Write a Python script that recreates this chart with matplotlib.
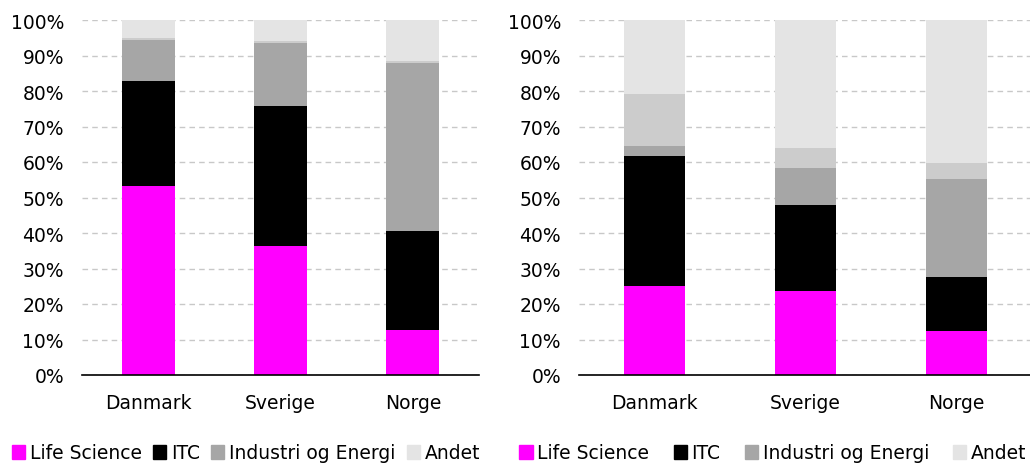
import numpy as np
import matplotlib.pyplot as plt
from matplotlib.patches import Patch

# Data (andel i %)
lande = ['Danmark', 'Sverige', 'Norge']
serier = ['Life Science', 'ITC', 'Industri og Energi', 'Andet']

# venstre figur
v_life = [53.2, 36.3, 12.7]
v_itc = [29.5, 39.6, 27.9]
v_ind = [11.8, 17.7, 47.4]
v_ovr = [0.3, 0.4, 0.5]
v_andet = [5.2, 6.0, 11.5]

# højre figur
h_life = [25.0, 23.7, 12.4]
h_itc = [36.8, 24.3, 15.1]
h_ind = [2.8, 10.2, 27.8]
h_ovr = [14.6, 5.8, 4.5]
h_andet = [20.8, 36.0, 40.2]

farver = ['#ff00ff', '#000000', '#a6a6a6', '#cccccc', '#e4e4e4']

plt.rcParams['font.family'] = 'DejaVu Sans'
plt.rcParams['font.size'] = 13.5

fig = plt.figure(figsize=(10.3, 4.64), dpi=100)
ax1 = fig.add_axes([82/1030, 88/464, 397/1030, 355/464])
ax2 = fig.add_axes([579/1030, 88/464, 453/1030, 355/464])


def tegn(ax, data):
    x = np.arange(len(lande))
    bund = np.zeros(len(lande))
    for vals, c in zip(data, farver):
        ax.bar(x, vals, 0.4, bottom=bund, color=c, zorder=3)
        bund += np.array(vals)
    ax.set_xlim(-0.5, len(lande) - 0.5)
    ax.set_ylim(0, 100)
    ax.set_yticks(np.arange(0, 101, 10))
    ax.set_yticklabels(['{:d}%'.format(v) for v in range(0, 101, 10)])
    ax.set_xticks(x)
    ax.set_xticklabels(lande)
    ax.tick_params(length=0)
    ax.tick_params(axis='y', pad=13)
    ax.tick_params(axis='x', pad=13)
    ax.yaxis.grid(True, color='#c8c8c8', linestyle=(0, (4, 3)), linewidth=1, zorder=0)
    for s in ['left', 'right', 'top']:
        ax.spines[s].set_visible(False)
    ax.spines['bottom'].set_color('black')
    ax.spines['bottom'].set_linewidth(1.2)
    ax.spines['bottom'].set_zorder(4)


tegn(ax1, [v_life, v_itc, v_ind, v_ovr, v_andet])
tegn(ax2, [h_life, h_itc, h_ind, h_ovr, h_andet])

handles = [Patch(color=c) for c in [farver[0], farver[1], farver[2], farver[4]]]
fig.legend(handles, serier, loc='center', bbox_to_anchor=(246/1030, 1 - 454/464), ncol=4,
           frameon=False, handlelength=0.7, handleheight=0.7, handletextpad=0.25,
           columnspacing=0.6, borderaxespad=0, borderpad=0)
fig.legend(handles, serier, loc='center', bbox_to_anchor=(773/1030, 1 - 454/464), ncol=4,
           frameon=False, handlelength=0.7, handleheight=0.7, handletextpad=0.25,
           columnspacing=1.3, borderaxespad=0, borderpad=0)

fig.savefig('out.png', dpi=100)
